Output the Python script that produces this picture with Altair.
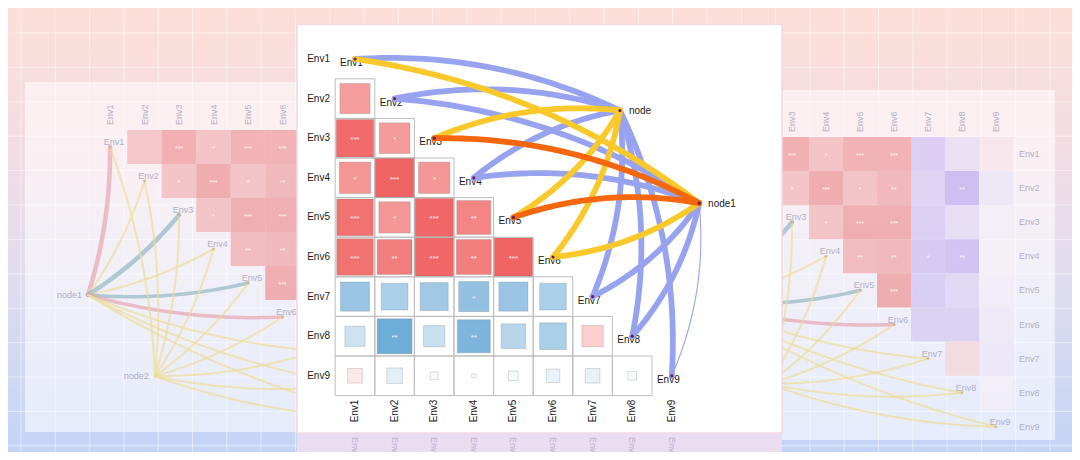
import altair as alt
import numpy as np
import pandas as pd

# ---------------- data ----------------
env_names = [f"Env{i}" for i in range(1, 10)]

# lower-triangle correlations: row EnvI against Env1..Env(I-1)
r_env2 = [0.60]
r_env3 = [0.92, 0.62]
r_env4 = [0.65, 0.97, 0.65]
r_env5 = [0.88, 0.65, 0.95, 0.76]
r_env6 = [0.88, 0.80, 0.95, 0.80, 0.96]
r_env7 = [-0.56, -0.47, -0.52, -0.60, -0.56, -0.47]
r_env8 = [-0.27, -0.80, -0.30, -0.72, -0.40, -0.47, 0.30]
r_env9 = [0.14, -0.16, -0.04, -0.01, -0.06, -0.12, -0.14, -0.05]

sig_env2 = [""]
sig_env3 = ["***", "*"]
sig_env4 = ["*", "***", "*"]
sig_env5 = ["***", "*", "***", "**"]
sig_env6 = ["***", "**", "***", "**", "***"]
sig_env7 = ["", "", "", "*", "", ""]
sig_env8 = ["", "**", "", "**", "", "", ""]
sig_env9 = ["", "", "", "", "", "", "", ""]

# network nodes (in matrix cell units)
node_names = ["node", "node1"]
node_col = [7.69, 9.69]
node_row = [2.30, 4.64]

# Mantel links
mantel_node = ["node"] * 9 + ["node1"] * 9
mantel_env = env_names + env_names
mantel_p = [">= 0.05", ">= 0.05", "0.01 - 0.05", ">= 0.05", "0.01 - 0.05", "0.01 - 0.05", ">= 0.05", ">= 0.05", ">= 0.05",
            "0.01 - 0.05", ">= 0.05", "< 0.01", ">= 0.05", "< 0.01", "0.01 - 0.05", ">= 0.05", ">= 0.05", ">= 0.05"]
mantel_r = [">= 0.4"] * 17 + ["< 0.2"]
mantel_bend = [1, 1, 1, 1, -1, -1, -1, -1, -1,
               1, 1, 1, 1, 1, -1, -1, -1, -1]

# faded background copies of the same figure
bg_node_names = ["node1", "node2"]
bg_node_col = [0.36, 2.30]
bg_node_row = [5.35, 7.74]
bg_link_node = ["node1"] * 9 + ["node2"] * 9
bg_link_env = env_names + env_names
bg_link_type = ["pink", "yellow", "teal", "yellow", "teal", "pink", "yellow", "yellow", "yellow"] + ["yellow"] * 9
bg_link_r = [">= 0.4", "< 0.2", ">= 0.4", "< 0.2", "0.2 - 0.4", "0.2 - 0.4", "< 0.2", "< 0.2", "< 0.2"] + ["< 0.2"] * 9

# ---------------- layout ----------------
W, H = 1064, 444
OFF = 8
STEP = 39.6
MX1, MY1 = 355.0, 59.0
PANEL_X = (297.0, 782.0)
FONT = "Liberation Sans"
R_W = {">= 0.4": 5.8, "0.2 - 0.4": 3.5, "< 0.2": 1.1}
BG_W = {">= 0.4": 4.5, "0.2 - 0.4": 3.5, "< 0.2": 2.0}


def ux(px):
    return (px - MX1) / STEP + 1.0


def uy(py):
    return (py - MY1) / STEP + 1.0


def visible(px):
    return px < PANEL_X[0] - 12 or px > PANEL_X[1] + 8


XS = alt.Scale(domain=[ux(OFF), ux(OFF + W)], nice=False, zero=False)
YS = alt.Scale(domain=[uy(OFF), uy(OFF + H)], nice=False, zero=False, reverse=True)


def XY(xf="x", yf="y"):
    return dict(x=alt.X(f"{xf}:Q", scale=XS, axis=None), y=alt.Y(f"{yf}:Q", scale=YS, axis=None))


def RECT():
    return dict(x=alt.X("x:Q", scale=XS, axis=None), x2=alt.X2("x2:Q"),
                y=alt.Y("y:Q", scale=YS, axis=None), y2=alt.Y2("y2:Q"))


def bezier(sx, sy, ex, ey, k, bend, n=41):
    dx, dy = ex - sx, ey - sy
    cx = (sx + ex) / 2 + k * bend * dy
    cy = (sy + ey) / 2 - k * bend * dx
    t = np.linspace(0, 1, n)
    xs = (1 - t) ** 2 * sx + 2 * (1 - t) * t * cx + t ** 2 * ex
    ys = (1 - t) ** 2 * sy + 2 * (1 - t) * t * cy + t ** 2 * ey
    return xs, ys


r_rows = [r_env2, r_env3, r_env4, r_env5, r_env6, r_env7, r_env8, r_env9]
sig_rows = [sig_env2, sig_env3, sig_env4, sig_env5, sig_env6, sig_env7, sig_env8, sig_env9]
cells = []
for k, (rv, sv) in enumerate(zip(r_rows, sig_rows)):
    i = k + 2
    for j, (r, s) in enumerate(zip(rv, sv), start=1):
        cells.append(dict(row=i, col=j, r=r, absr=abs(r), sig=s))
cells = pd.DataFrame(cells)
cells["x"] = cells["col"] - 0.5
cells["x2"] = cells["col"] + 0.5
cells["y"] = cells["row"] - 0.5
cells["y2"] = cells["row"] + 0.5

one = pd.DataFrame({"a": [0]})
layers = []

# ---------------- background ----------------
grad = alt.LinearGradient(
    gradient="linear",
    stops=[alt.GradientStop(color="#FCDFD7", offset=0),
           alt.GradientStop(color="#F4DCE3", offset=0.3),
           alt.GradientStop(color="#DFDCEF", offset=0.62),
           alt.GradientStop(color="#C3D4F6", offset=1)],
    x1=0, x2=0, y1=0, y2=1)
layers.append(alt.Chart(one).mark_rect(color=grad).encode(
    x=alt.value(0), x2=alt.value(W), y=alt.value(0), y2=alt.value(H)))

sp = pd.DataFrame({"x": [ux(25), ux(782)], "x2": [ux(297), ux(1055)],
                   "y": [uy(82), uy(90)], "y2": [uy(432), uy(440)]})
layers.append(alt.Chart(sp).mark_rect(color="white", opacity=0.55).encode(**RECT()))

gv = pd.DataFrame({"x": [ux(21 + 34.3 * k) for k in range(31)]})
layers.append(alt.Chart(gv).mark_rule(color="white", strokeWidth=1, opacity=0.5).encode(
    x=alt.X("x:Q", scale=XS, axis=None), y=alt.value(0), y2=alt.value(H)))
gh = pd.DataFrame({"y": [uy(-1.4 + 34.4 * k) for k in range(1, 14)]})
layers.append(alt.Chart(gh).mark_rule(color="white", strokeWidth=1, opacity=0.5).encode(
    y=alt.Y("y:Q", scale=YS, axis=None), x=alt.value(0), x2=alt.value(W)))

COPIES = [(110.0, 147.0, 34.5, 34.0), (724.0, 154.0, 34.0, 34.1)]
tiles, heads, rlabs, diags, bgl, bgn, bgd = [], [], [], [], [], [], []
BG_COL = {"pink": "#E6A0AC", "teal": "#8AB2C0", "yellow": "#EEDC90"}
for ci, (x1, y1, sx, sy) in enumerate(COPIES):
    for _, c in cells.iterrows():
        cx = x1 + sx * (c["row"] - 1)
        cy = y1 + sy * (c["col"] - 1)
        tiles.append(dict(x=ux(cx - sx / 2), x2=ux(cx + sx / 2), y=uy(cy - sy / 2), y2=uy(cy + sy / 2),
                          xc=ux(cx), yc=uy(cy), r=c["r"], sig=c["sig"] if visible(cx) else ""))
    for j, nm in enumerate(env_names):
        px = x1 + sx * j
        py = y1 + sy * j
        if visible(px):
            heads.append(dict(x=ux(px), y=uy(y1 - 22), lab=nm))
            diags.append(dict(x=ux(px), y=uy(py), lab=nm))
        bgd.append(dict(x=ux(px), y=uy(py)))
        if visible(x1 + sx * 8 + 23):
            rlabs.append(dict(x=ux(x1 + sx * 8 + 23), y=uy(py), lab=nm))
    npos = {n: (x1 + sx * (c_ - 1), y1 + sy * (r_ - 1)) for n, c_, r_ in zip(bg_node_names, bg_node_col, bg_node_row)}
    for n in bg_node_names:
        if visible(npos[n][0]):
            bgn.append(dict(x=ux(npos[n][0]), y=uy(npos[n][1]), lab=n))
    for li, (nd, ev, tp, rc) in enumerate(zip(bg_link_node, bg_link_env, bg_link_type, bg_link_r)):
        i = env_names.index(ev)
        ex, ey = x1 + sx * i, y1 + sy * i
        nx, ny = npos[nd]
        xs, ys = bezier(ex, ey, nx, ny, 0.08, 1)
        for k, (a, b) in enumerate(zip(xs, ys)):
            bgl.append(dict(x=ux(a), y=uy(b), lid=f"{ci}_{li}", k=k, tp=tp, w=BG_W[rc]))
tiles = pd.DataFrame(tiles)
layers.append(alt.Chart(tiles).mark_rect(opacity=0.75).encode(
    **RECT(), color=alt.Color("r:Q", scale=alt.Scale(domain=[-1, 0, 1], range=["#B29EEE", "#F6F1F6", "#EE9496"],
                                                      interpolate="rgb"), legend=None)))
layers.append(alt.Chart(tiles).mark_text(color="white", fontSize=7, opacity=0.85, dy=2, font=FONT).encode(
    **XY("xc", "yc"), text="sig:N"))
layers.append(alt.Chart(pd.DataFrame(heads)).mark_text(angle=270, align="left", baseline="middle", fontSize=9,
                                                       color="#A3A3B6", opacity=0.8, font=FONT).encode(**XY(), text="lab:N"))
layers.append(alt.Chart(pd.DataFrame(rlabs)).mark_text(align="left", baseline="middle", fontSize=9,
                                                       color="#A3A3B6", opacity=0.8, font=FONT).encode(**XY(), text="lab:N"))
bgl = pd.DataFrame(bgl)
layers.append(alt.Chart(bgl).mark_line(strokeCap="round", opacity=0.65).encode(
    **XY(), detail="lid:N", order="k:Q",
    color=alt.Color("tp:N", scale=alt.Scale(domain=list(BG_COL.keys()), range=list(BG_COL.values())), legend=None),
    strokeWidth=alt.StrokeWidth("w:Q", scale=None)))
layers.append(alt.Chart(pd.DataFrame(bgd)).mark_circle(size=8, color="#C9B07A", opacity=0.7).encode(**XY()))
layers.append(alt.Chart(pd.DataFrame(diags)).mark_text(align="center", baseline="middle", dx=4, dy=-5, fontSize=9,
                                                       color="#A3A3B6", opacity=0.8, font=FONT).encode(**XY(), text="lab:N"))
layers.append(alt.Chart(pd.DataFrame(bgn)).mark_text(align="right", baseline="middle", dx=-6, fontSize=9,
                                                     color="#A3A3B6", opacity=0.85, font=FONT).encode(**XY(), text="lab:N"))

# ---------------- main panel ----------------
band = pd.DataFrame({"x": [ux(297)], "x2": [ux(782)], "y": [uy(433)], "y2": [uy(OFF + H)]})
layers.append(alt.Chart(band).mark_rect(color="#EBDDF1").encode(**RECT()))
refl = pd.DataFrame({"x": list(range(1, 10)), "y": [uy(437)] * 9, "lab": ["Env"] * 9})
layers.append(alt.Chart(refl).mark_text(angle=90, align="left", baseline="middle", fontSize=9,
                                        color="#B5A3C8", opacity=0.8, font=FONT).encode(**XY(), text="lab:N"))
panel = pd.DataFrame({"x": [ux(297)], "x2": [ux(782)], "y": [uy(24.5)], "y2": [uy(433)]})
layers.append(alt.Chart(panel).mark_rect(color="white", stroke="#F1D9E5", strokeWidth=1.5).encode(**RECT()))

layers.append(alt.Chart(cells).mark_rect(fillOpacity=0, stroke="#BDBDBD", strokeWidth=1).encode(**RECT()))
layers.append(alt.Chart(cells).mark_square(opacity=1, stroke="#707070", strokeOpacity=0.3, strokeWidth=0.8).encode(
    **XY("col", "row"),
    size=alt.Size("absr:Q", scale=alt.Scale(domain=[0, 1], range=[0, STEP * STEP * 0.97]), legend=None),
    color=alt.Color("r:Q", scale=alt.Scale(domain=[-1, 0, 1], range=["#4A98CE", "#FFFFFF", "#F05E5E"],
                                            interpolate="rgb"), legend=None)))
layers.append(alt.Chart(cells).mark_text(color="#FFF4F4", fontSize=8, dy=2, font=FONT).encode(
    **XY("col", "row"), text="sig:N"))

labs = pd.DataFrame({"idx": list(range(1, 10)), "lab": env_names})
labs["lx"] = ux(330)
labs["by"] = 9.6
layers.append(alt.Chart(labs).mark_text(align="right", baseline="middle", fontSize=10, color="#1A1A1A", font=FONT).encode(
    **XY("lx", "idx"), text="lab:N"))
layers.append(alt.Chart(labs).mark_text(angle=270, align="right", baseline="middle", fontSize=10, color="#1A1A1A",
                                        font=FONT).encode(**XY("idx", "by"), text="lab:N"))
layers.append(alt.Chart(labs).mark_text(align="center", baseline="middle", dx=-3.5, dy=4, fontSize=10, color="#1A1A1A",
                                        font=FONT).encode(**XY("idx", "idx"), text="lab:N"))

npos = {n: (c_, r_) for n, c_, r_ in zip(node_names, node_col, node_row)}
links = []
for li, (nd, ev, p, rc, b) in enumerate(zip(mantel_node, mantel_env, mantel_p, mantel_r, mantel_bend)):
    i = env_names.index(ev) + 1
    nx, ny = npos[nd]
    xs, ys = bezier(i, i, nx, ny, 0.13, b)
    for k, (a, bb) in enumerate(zip(xs, ys)):
        links.append(dict(x=a, y=bb, lid=li, k=k, p=p, w=R_W[rc]))
links = pd.DataFrame(links)
P_DOM = ["< 0.01", "0.01 - 0.05", ">= 0.05"]
P_RNG = ["#F4670D", "#F9C92B", "#98A3F0"]
for p in [">= 0.05", "0.01 - 0.05", "< 0.01"]:
    layers.append(alt.Chart(links[links["p"] == p]).mark_line(strokeCap="round").encode(
        **XY(), detail="lid:N", order="k:Q",
        color=alt.Color("p:N", scale=alt.Scale(domain=P_DOM, range=P_RNG), legend=None),
        strokeWidth=alt.StrokeWidth("w:Q", scale=None)))

dots = pd.DataFrame({"x": list(range(1, 10)) + node_col, "y": list(range(1, 10)) + node_row})
layers.append(alt.Chart(dots).mark_circle(size=10, color="#6A1B5A", opacity=1).encode(**XY()))
nl = pd.DataFrame({"x": node_col, "y": node_row, "lab": node_names})
layers.append(alt.Chart(nl).mark_text(align="left", baseline="middle", dx=9, dy=1, fontSize=10,
                                      color="#1A1A1A", font=FONT).encode(**XY(), text="lab:N"))

chart = alt.layer(*layers).resolve_scale(
    color="independent", size="independent", strokeWidth="independent"
).properties(
    width=W, height=H, padding=0, autosize=alt.AutoSizeParams(type="none"), background="white"
).configure_view(stroke=None)

chart.save("out.html", embed_options={"renderer": "svg", "actions": False})
